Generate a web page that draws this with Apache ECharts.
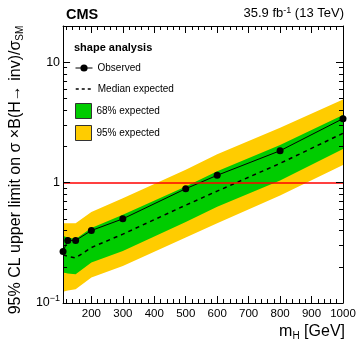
<!DOCTYPE html>
<html>
<head>
<meta charset="utf-8">
<script src="https://cdn.jsdelivr.net/npm/echarts@6/dist/echarts.min.js"></script>
<style>
  html, body { margin: 0; padding: 0; background: #fff; }
  #chart { width: 359px; height: 341px; }
</style>
</head>
<body>
<div id="chart"></div>
<script>
// mH points (GeV)
const masses = [110, 125, 150, 200, 300, 500, 600, 800, 1000];
const observed = [0.268, 0.331, 0.331, 0.40, 0.50, 0.89, 1.15, 1.84, 3.40];
const expMedian = [0.251, 0.244, 0.237, 0.289, 0.373, 0.65, 0.85, 1.445, 2.57];
const exp68Low = [0.179, 0.176, 0.173, 0.217, 0.271, 0.47, 0.63, 1.04, 1.9];
const exp68High = [0.36, 0.35, 0.34, 0.42, 0.54, 0.93, 1.24, 2.05, 3.65];
const exp95Low = [0.124, 0.127, 0.13, 0.163, 0.203, 0.35, 0.46, 0.78, 1.40];
const exp95High = [0.46, 0.46, 0.46, 0.57, 0.74, 1.28, 1.72, 2.85, 4.9];
const smLine = 1;

const xMajorTicks = [200, 300, 400, 500, 600, 700, 800, 900, 1000];
const xMinorTicks = [120, 140, 160, 180, 220, 240, 260, 280, 320, 340, 360, 380,
  420, 440, 460, 480, 520, 540, 560, 580, 620, 640, 660, 680, 720, 740, 760, 780,
  820, 840, 860, 880, 920, 940, 960, 980];
const yMajorTicks = [0.1, 1, 10];
const yMinorTicks = [0.2, 0.3, 0.4, 0.5, 0.6, 0.7, 0.8, 0.9, 2, 3, 4, 5, 6, 7, 8, 9, 20];

const FONT = "'Liberation Sans', Arial, Helvetica, sans-serif";
const GREEN = "#00cc00";
const YELLOW = "#ffcc00";

const pairs = (ys) => masses.map((m, i) => [m, ys[i]]);

const yLabel = (v) => {
  if (v === 0.1) return "10{sup|\u22121}";
  return String(v);
};

const frameX = (position, values, len, withLabels, withLine) => ({
  type: "value",
  position,
  min: 110,
  max: 1000,
  z: 5,
  axisLine: { show: withLine, onZero: false, lineStyle: { color: "#000", width: 1 } },
  axisTick: { show: true, inside: true, length: len, customValues: values,
    lineStyle: { color: "#000", width: 1 } },
  axisLabel: withLabels
    ? { show: true, customValues: values, color: "#000", fontSize: 11.5, fontFamily: FONT,
        margin: 5, formatter: (v) => String(v) }
    : { show: false },
  splitLine: { show: false },
});

const frameY = (position, values, len, withLabels, withLine) => ({
  type: "log",
  logBase: 10,
  position,
  min: 0.1,
  max: 20,
  z: 5,
  axisLine: { show: withLine, onZero: false, lineStyle: { color: "#000", width: 1 } },
  axisTick: { show: true, inside: true, length: len, customValues: values,
    lineStyle: { color: "#000", width: 1 } },
  axisLabel: withLabels
    ? { show: true, customValues: values, color: "#000", fontSize: 12.5, fontFamily: FONT,
        margin: 3, formatter: yLabel,
        rich: { sup: { fontSize: 9, verticalAlign: "top", padding: [0, 0, 8, 0], fontFamily: FONT, color: "#000" } } }
    : { show: false },
  splitLine: { show: false },
});

const xAxes = [
  frameX("bottom", xMajorTicks, 7, true, true),
  frameX("bottom", xMinorTicks, 4, false, false),
  frameX("top", xMajorTicks, 7, false, true),
  frameX("top", xMinorTicks, 4, false, false),
];
xAxes[0].name = "m{sub|H} [GeV]";
xAxes[0].nameLocation = "end";
xAxes[0].nameGap = 2;
xAxes[0].nameTextStyle = {
  fontSize: 16, fontFamily: FONT, color: "#000", align: "right", verticalAlign: "top",
  padding: [19, 0, 0, 0],
  rich: { sub: { fontSize: 10, verticalAlign: "bottom", padding: [9, 0, 0, 0], fontFamily: FONT, color: "#000" } },
};

const yAxes = [
  frameY("left", yMajorTicks, 7, true, true),
  frameY("left", yMinorTicks, 4, false, false),
  frameY("right", yMajorTicks, 7, false, true),
  frameY("right", yMinorTicks, 4, false, false),
];
yAxes[0].name = "95% CL upper limit on \u03c3 \u00d7B(H\u2192 inv)/\u03c3{sub|SM}";
yAxes[0].nameLocation = "middle";
yAxes[0].nameGap = 27;
yAxes[0].nameTextStyle = {
  fontSize: 16, fontFamily: FONT, color: "#000",
  padding: [0, 11, 0, 0],
  rich: { sub: { fontSize: 10, verticalAlign: "bottom", padding: [8, 0, 0, 0], fontFamily: FONT, color: "#000" } },
};

// filled band between lo and hi, drawn as one polygon through the axis scales
const band = (name, lo, hi, color) => ({
  name,
  type: "custom",
  data: masses.map((m, i) => [m, lo[i], hi[i]]),
  encode: { x: 0, y: [1, 2] },
  itemStyle: { color },
  silent: true,
  clip: true,
  renderItem: (params, api) => {
    if (params.dataIndex !== 0) return;
    const top = masses.map((m, i) => api.coord([m, hi[i]]));
    const bottom = masses.map((m, i) => api.coord([m, lo[i]])).reverse();
    return {
      type: "polygon",
      shape: { points: top.concat(bottom) },
      style: { fill: color, stroke: null },
    };
  },
});

const legendBase = {
  left: 75,
  padding: 0,
  itemWidth: 17,
  selectedMode: false,
  textStyle: { fontSize: 10, fontFamily: FONT, color: "#000" },
};

const chart = echarts.init(document.getElementById("chart"), null, { renderer: "canvas" });
chart.setOption({
  animation: false,
  backgroundColor: "#fff",
  textStyle: { fontFamily: FONT },
  grid: { left: 54, right: 16, top: 26, bottom: 38, containLabel: false },
  title: [
    { text: "CMS", left: 66, top: 7, padding: 0,
      textStyle: { fontSize: 14.5, fontWeight: "bold", fontFamily: FONT, color: "#000" } },
    {
      text: "35.9 fb{sup|-1} (13 TeV)", right: 15, top: 6, padding: 0,
      textStyle: {
        fontSize: 13, fontWeight: "normal", fontFamily: FONT, color: "#000",
        rich: { sup: { fontSize: 9, verticalAlign: "top", padding: [0, 0, 6, 0], fontFamily: FONT, color: "#000" } },
      },
    },
    { text: "shape analysis", left: 74, top: 42, padding: 0,
      textStyle: { fontSize: 11, fontWeight: "bold", fontFamily: FONT, color: "#000" } },
  ],
  legend: [
    {
      ...legendBase, top: 63, itemHeight: 9,
      data: [{ name: "Observed", itemStyle: { color: "#000" }, lineStyle: { color: "#000", width: 1 } }],
    },
    {
      ...legendBase, top: 84, itemHeight: 9,
      data: [{ name: "Median expected", itemStyle: { color: "rgba(0,0,0,0)", borderWidth: 0 },
        lineStyle: { color: "#000", width: 1.5, type: [3, 3] } }],
    },
    {
      ...legendBase, top: 103, itemHeight: 15, itemWidth: 16,
      data: [{ name: "68% expected", icon: "rect", itemStyle: { color: GREEN, borderColor: "#333", borderWidth: 1 } }],
    },
    {
      ...legendBase, top: 125, itemHeight: 15, itemWidth: 16,
      data: [{ name: "95% expected", icon: "rect", itemStyle: { color: YELLOW, borderColor: "#333", borderWidth: 1 } }],
    },
  ],
  xAxis: xAxes,
  yAxis: yAxes,
  series: [
    band("95% expected", exp95Low, exp95High, YELLOW),
    band("68% expected", exp68Low, exp68High, GREEN),
    {
      name: "SM", type: "line", data: [], symbol: "none",
      markLine: {
        silent: true, symbol: "none", label: { show: false },
        lineStyle: { color: "#ff0000", width: 1.5, type: "solid" },
        data: [{ yAxis: smLine }],
      },
    },
    {
      name: "Median expected", type: "line", data: pairs(expMedian), symbol: "none",
      color: "#000", lineStyle: { color: "#000", width: 1.5, type: [4, 4] },
    },
    {
      name: "Observed", type: "line", data: pairs(observed), symbol: "circle", symbolSize: 7,
      color: "#000", itemStyle: { color: "#000" }, lineStyle: { color: "#000", width: 1 },
    },
  ],
});
</script>
</body>
</html>
